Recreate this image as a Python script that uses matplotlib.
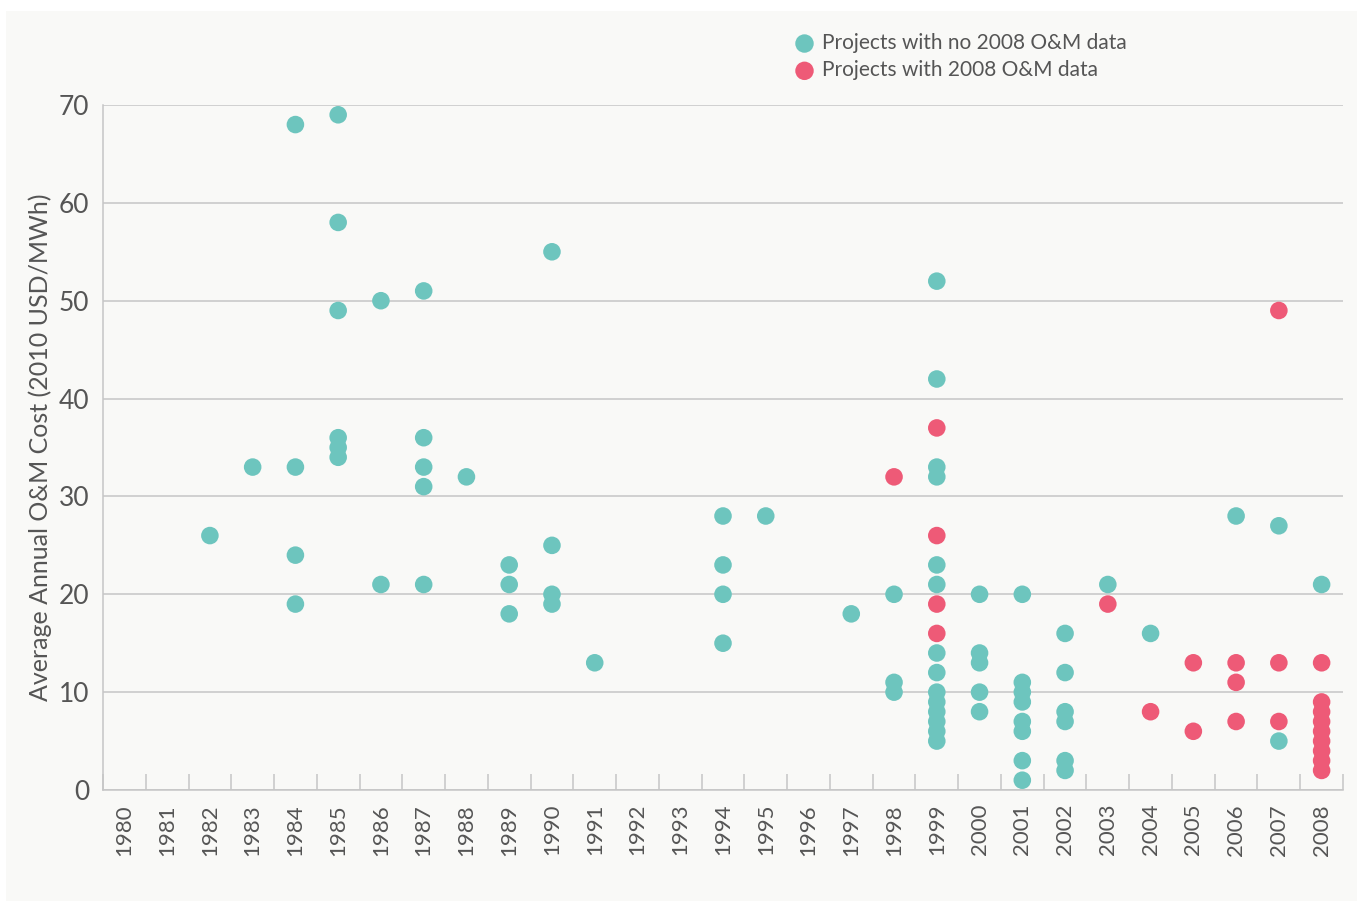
import matplotlib
matplotlib.use("Agg")
import matplotlib.pyplot as plt
from matplotlib.patches import Rectangle
import numpy as np

YEARS = list(range(1980, 2009))

# projects with no 2008 O&M data (teal)
NO2008_YEAR = ([1982] + [1983] + [1984] * 4 + [1985] * 6 + [1986] * 2 + [1987] * 5
               + [1988] + [1989] * 3 + [1990] * 4 + [1991] + [1994] * 4 + [1995]
               + [1997] + [1998] * 3 + [1999] * 14 + [2000] * 5 + [2001] * 8
               + [2002] * 6 + [2003] + [2004] + [2006] + [2007] * 2 + [2008])
NO2008_COST = ([26] + [33] + [68, 33, 24, 19] + [69, 58, 49, 36, 35, 34] + [50, 21]
               + [51, 36, 33, 31, 21] + [32] + [23, 21, 18] + [55, 25, 20, 19] + [13]
               + [28, 23, 20, 15] + [28] + [18] + [20, 11, 10]
               + [52, 42, 33, 32, 23, 21, 14, 12, 10, 9, 8, 7, 6, 5]
               + [20, 14, 13, 10, 8] + [20, 11, 10, 9, 7, 6, 3, 1]
               + [16, 12, 8, 7, 3, 2] + [21] + [16] + [28] + [27, 5] + [21])

# projects with 2008 O&M data (pink)
WITH2008_YEAR = ([1998] + [1999] * 4 + [2003] + [2004] + [2005] * 2 + [2006] * 3
                 + [2007] * 3 + [2008] * 9)
WITH2008_COST = ([32] + [37, 26, 19, 16] + [19] + [8] + [13, 6] + [13, 11, 7]
                 + [49, 13, 7] + [13, 9, 8, 7, 6, 5, 4, 3, 2])

TEAL = "#6dc5be"
PINK = "#ee5a77"
GRID = "#c6c6c6"
TEXT = "#555555"
BG = "#f9f9f7"

plt.rcParams["font.family"] = ["Lato", "DejaVu Sans"]

fig = plt.figure(figsize=(13.57, 9.01), dpi=100)
fig.patch.set_facecolor("white")
fig.patches.append(Rectangle((6 / 1357, 0), 1 - 6 / 1357, 1 - 11 / 901,
                             transform=fig.transFigure, facecolor=BG,
                             edgecolor="none", zorder=-10))

ax = fig.add_axes([103 / 1357, 1 - 790 / 901, 1240 / 1357, 685 / 901])
ax.set_facecolor(BG)

idx = {y: i for i, y in enumerate(YEARS)}
ax.scatter([idx[y] for y in NO2008_YEAR], NO2008_COST, s=160, color=TEAL,
           edgecolor="none", zorder=3, label="Projects with no 2008 O&M data")
ax.scatter([idx[y] for y in WITH2008_YEAR], WITH2008_COST, s=160, color=PINK,
           edgecolor="none", zorder=4, label="Projects with 2008 O&M data")

ax.set_xlim(-0.5, len(YEARS) - 0.5)
ax.set_ylim(0, 70)
ax.set_yticks(range(0, 71, 10))
ax.set_xticks(np.arange(len(YEARS)))
ax.set_xticklabels([str(y) for y in YEARS], rotation=90, fontsize=16, color=TEXT)
ax.set_xticks(np.arange(len(YEARS) + 1) - 0.5, minor=True)
ax.tick_params(axis="x", which="major", length=0, pad=10)
ax.tick_params(axis="x", which="minor", direction="in", length=11.5,
               width=1.1, color=GRID)
ax.tick_params(axis="y", length=0, pad=10, labelsize=19, labelcolor=TEXT)

ax.grid(axis="y", color=GRID, linewidth=1.1, zorder=0)
ax.set_axisbelow(True)
for side in ("top", "right"):
    ax.spines[side].set_visible(False)
for side in ("left", "bottom"):
    ax.spines[side].set_color(GRID)
    ax.spines[side].set_linewidth(1.1)

ax.set_ylabel("Average Annual O&M Cost (2010 USD/MWh)", fontsize=18,
              color=TEXT, labelpad=5)

leg = fig.legend(loc="upper left", bbox_to_anchor=(792 / 1357, 1 - 33 / 901),
                 frameon=False, fontsize=15, handletextpad=0.25,
                 labelspacing=0.35, borderaxespad=0, borderpad=0,
                 handlelength=1.2, markerscale=1.05)
for t in leg.get_texts():
    t.set_color(TEXT)

fig.savefig("out.png", dpi=100, facecolor=fig.get_facecolor())
